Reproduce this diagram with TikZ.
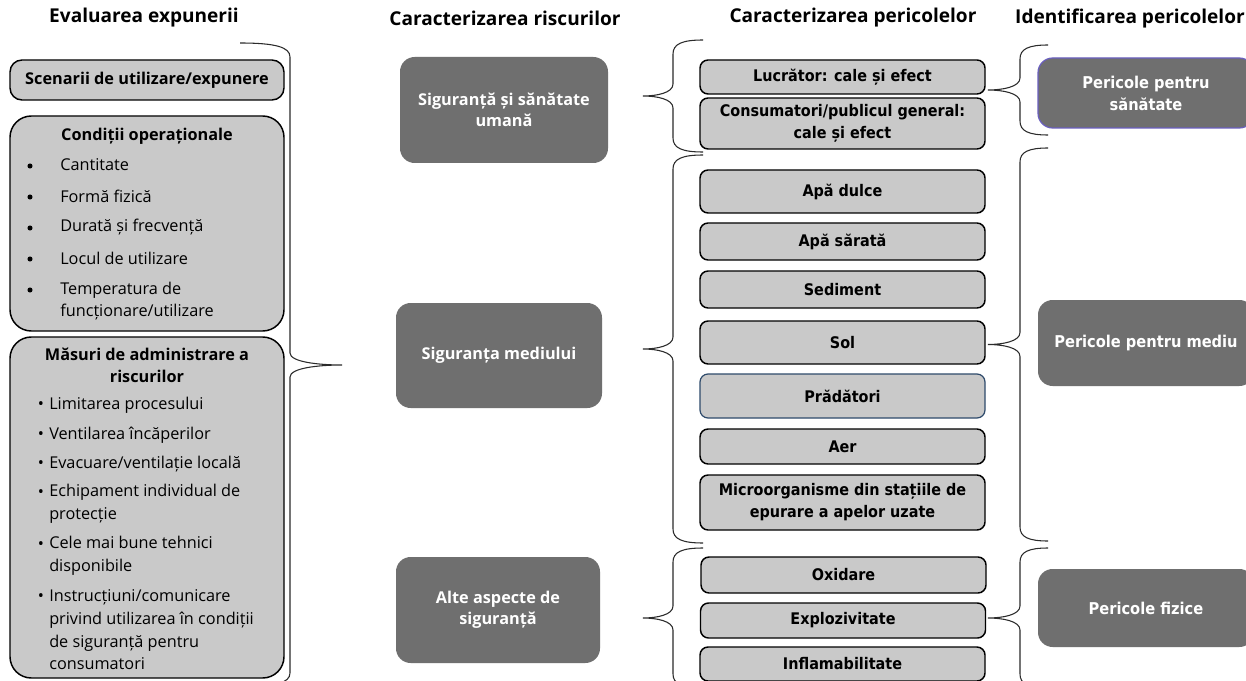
\documentclass[tikz,border=0pt]{standalone}
\usepackage{fontspec}
\setmainfont{Open Sans}
\newfontfamily\narrowfont{DejaVu Sans Condensed}
\usepackage{tikz}
\usetikzlibrary{positioning}
\definecolor{boxgray}{HTML}{C9C9C9}
\definecolor{darkfill}{HTML}{6F6F6F}
\definecolor{curlline}{HTML}{2B2B2B}
\definecolor{bluerim}{HTML}{2E4A6B}
\definecolor{violetrim}{HTML}{6A5FC0}
\tikzset{
  heading/.style={font=\fontsize{14.3}{17}\selectfont\bfseries, text=black},
  leftbox/.style={draw=black, fill=boxgray, line width=1.1pt, rounded corners=16pt, minimum width=205.5pt},
  hazbox/.style={draw=black, fill=boxgray, line width=1.1pt, rounded corners=6pt, minimum width=213.75pt, align=center, font=\narrowfont\bfseries\fontsize{12}{16.5}\selectfont},
  riskbox/.style={fill=darkfill, rounded corners=11pt, text=white, align=center, font=\fontsize{12.2}{16}\selectfont\bfseries},
  hazardbox/.style={fill=darkfill, rounded corners=11pt, text=white, align=center, minimum width=162pt, font=\narrowfont\bfseries\fontsize{12.2}{16.5}\selectfont},
  subhead/.style={align=center, font=\fontsize{12.2}{16.5}\selectfont\bfseries},
  itemtext/.style={anchor=west, inner sep=0pt, align=left, font=\fontsize{12.2}{17}\selectfont},
  dot/.style={inner sep=0pt, font=\fontsize{12.2}{17}\selectfont},
  bigdot/.style={circle, fill=black, inner sep=0pt, minimum size=3.8pt},
  curl/.style={draw=curlline, line width=0.8pt},
}
% brace: tip x, spine x, arm x, top y, bottom y
\newcommand{\bracepath}[5]{%
  \pgfmathsetmacro{\midy}{(#4+#5)/2}
  \draw[curl] (#3,#4) .. controls ({#2+0.3*(#3-#2)},#4) and (#2,{#4+4}) .. (#2,{#4+14})
    -- (#2,{\midy-12}) .. controls (#2,{\midy-3}) and ({#1+0.45*(#2-#1)},\midy) .. (#1,\midy)
    .. controls ({#1+0.45*(#2-#1)},\midy) and (#2,{\midy+3}) .. (#2,{\midy+12})
    -- (#2,{#5-14}) .. controls (#2,{#5-4}) and ({#2+0.3*(#3-#2)},#5) .. (#3,#5);
}

\begin{document}
\begin{tikzpicture}[x=0.75pt, y=-0.75pt]
  \useasboundingbox (0,0) rectangle (1246,681);
  \fill[white] (0,0) rectangle (1246,681);

  % column headings
  \node[heading] (hexp) at (144,18) {Evaluarea expunerii};
  \node[heading] (hrisk) at (505,18) {Caracterizarea riscurilor};
  \node[heading] (hchar) at (853,18) {Caracterizarea pericolelor};
  \node[heading] (hid) at (1130,18) {Identificarea pericolelor};

  % exposure assessment
  \node[leftbox, rounded corners=9pt, minimum height=30pt, font=\fontsize{12.2}{16}\selectfont\bfseries] (scen) at (147,80) {Scenarii de utilizare/expunere};
  \node[leftbox, minimum height=161.25pt] (cond) at (147,223.5) {};
  \node[subhead] (condhead) at (147,136) {Condiții operaționale};
  \node[bigdot] at (30,166) {};
  \node[itemtext] (c1) at (60,165) {Cantitate};
  \node[bigdot] at (30,197) {};
  \node[itemtext] (c2) at (60,196) {Formă fizică};
  \node[bigdot] at (30,228) {};
  \node[itemtext] (c3) at (60,227) {Durată și frecvență};
  \node[bigdot] at (30,259) {};
  \node[itemtext] (c4) at (60,258) {Locul de utilizare};
  \node[bigdot] at (30,290) {};
  \node[itemtext] (c5) at (60,301) {Temperatura de\\funcționare/utilizare};

  \node[leftbox, minimum height=255.75pt] (masuri) at (147,507.5) {};
  \node[subhead] (masurihead) at (147,365) {Măsuri de administrare a\\riscurilor};
  \node[dot] at (41,406) {•};
  \node[itemtext] (m1) at (49,405) {Limitarea procesului};
  \node[dot] at (41,436) {•};
  \node[itemtext] (m2) at (49,435) {Ventilarea încăperilor};
  \node[dot] at (41,465) {•};
  \node[itemtext] (m3) at (49,464) {Evacuare/ventilație locală};
  \node[dot] at (41,494) {•};
  \node[itemtext] (m4) at (49,504) {Echipament individual de\\protecție};
  \node[dot] at (41,546) {•};
  \node[itemtext] (m5) at (49,556) {Cele mai bune tehnici\\disponibile};
  \node[dot] at (41,598) {•};
  \node[itemtext] (m6) at (49,630) {Instrucțiuni/comunicare\\privind utilizarea în condiții\\de siguranță pentru\\consumatori};

  % risk characterisation
  \node[riskbox, minimum width=156pt, minimum height=79.5pt] (sigum) at (504,110) {Siguranță și sănătate\\umană};
  \node[riskbox, minimum width=154.5pt, minimum height=78.75pt] (sigmed) at (499,355.5) {Siguranța mediului};
  \node[riskbox, minimum width=153pt, minimum height=79.5pt] (alte) at (498,610) {Alte aspecte de\\siguranță};

  % hazard characterisation
  \node[hazbox, minimum height=25.5pt] (lucr) at (842.5,77) {Lucrător: cale și efect};
  \node[hazbox, minimum height=38.25pt] (cons) at (842.5,123.5) {Consumatori/publicul general:\\cale și efect};
  \node[hazbox, minimum height=32.25pt] (apad) at (842.5,191.5) {Apă dulce};
  \node[hazbox, minimum height=27.75pt] (apas) at (842.5,241.5) {Apă sărată};
  \node[hazbox, minimum height=27.75pt] (sedim) at (842.5,289.5) {Sediment};
  \node[hazbox, minimum height=32.25pt] (sol) at (842.5,342.5) {Sol};
  \node[hazbox, draw=bluerim, line width=0.9pt, minimum height=33pt] (prad) at (842.5,396) {Prădători};
  \node[hazbox, minimum height=26.25pt] (aer) at (842.5,446.5) {Aer};
  \node[hazbox, minimum height=41.25pt] (micro) at (842.5,502.5) {Microorganisme din stațiile de\\epurare a apelor uzate};
  \node[hazbox, minimum height=27pt] (oxid) at (843.5,575) {Oxidare};
  \node[hazbox, minimum height=26.25pt] (exploz) at (843,620.5) {Explozivitate};
  \node[hazbox, minimum height=25.5pt] (infl) at (842.5,664) {Inflamabilitate};

  % hazard identification
  \node[hazardbox, draw=violetrim, line width=0.9pt, minimum height=52.5pt] (persan) at (1146,93) {Pericole pentru\\sănătate};
  \node[hazardbox, minimum height=64.5pt] (permed) at (1146,343) {Pericole pentru mediu};
  \node[hazardbox, minimum height=58.5pt] (perfiz) at (1146,608) {Pericole fizice};

  % braces
  \bracepath{342}{290}{240}{43}{687}
  \bracepath{643}{673}{703}{40}{152}
  \bracepath{643}{673}{703}{155}{543}
  \bracepath{643}{673}{703}{548}{688}
  \bracepath{988}{1020}{1048}{45}{135}
  \bracepath{988}{1020}{1048}{148}{541}
  \bracepath{988}{1020}{1048}{548}{688}
\end{tikzpicture}
\end{document}
